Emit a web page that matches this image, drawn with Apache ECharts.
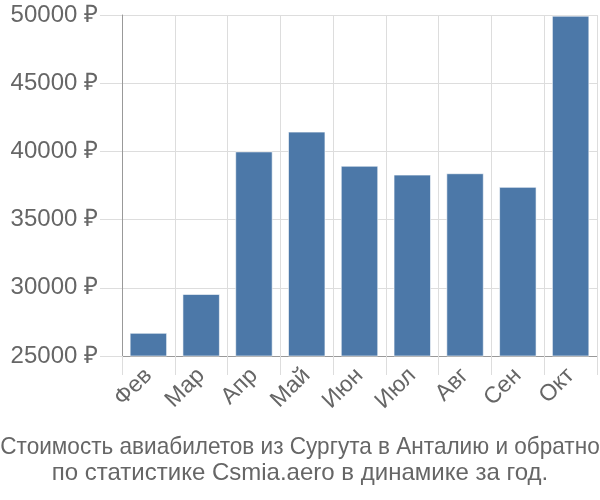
<!DOCTYPE html>
<html><head><meta charset="utf-8">
<script src="https://cdn.jsdelivr.net/npm/echarts@6/dist/echarts.min.js"></script>
<style>html,body{margin:0;padding:0;background:#fff}#c{width:600px;height:500px}</style>
</head><body><div id="c"></div>
<script>
const categories = ['Фев','Мар','Апр','Май','Июн','Июл','Авг','Сен','Окт'];
const prices = [26700, 29550, 40000, 41450, 38950, 38300, 38400, 37400, 49950];
const titleLines = ['Стоимость авиабилетов из Сургута в Анталию и обратно','по статистике Csmia.aero в динамике за год.'];
const yMin = 25000, yMax = 50000, yStep = 5000;

const chart = echarts.init(document.getElementById('c'), null, {renderer:'canvas'});
chart.setOption({
  animation:false,
  textStyle:{fontFamily:'Liberation Sans'},
  graphic:[
    {type:'text', x:300, y:447, scaleX:0.94,
     style:{text:titleLines[0], font:'24px "Liberation Sans"', fill:'#666', align:'center', verticalAlign:'middle'}},
    {type:'text', x:300, y:473,
     style:{text:titleLines[1], font:'24px "Liberation Sans"', fill:'#666', align:'center', verticalAlign:'middle'}}
  ],
  grid:{left:122, right:3, top:15, bottom:144, containLabel:false},
  xAxis:{
    type:'category', data:categories,
    axisLine:{lineStyle:{color:'#999', width:1}},
    axisTick:{show:true, length:19, interval:0, lineStyle:{color:'#ddd'}},
    splitLine:{show:true, interval:0, lineStyle:{color:'#ddd'}},
    axisLabel:{rotate:45, fontSize:23, color:'#666', margin:16, interval:0}
  },
  yAxis:{
    type:'value', min:yMin, max:yMax, interval:yStep,
    axisLine:{show:true, lineStyle:{color:'#999', width:1}},
    axisTick:{show:true, length:22, lineStyle:{color:'#ddd'}},
    splitLine:{show:true, lineStyle:{color:'#ddd'}},
    axisLabel:{fontSize:24, color:'#666', margin:24, formatter: v => v + ' ₽'}
  },
  series:[{
    type:'bar', data:prices, barWidth:'71%',
    itemStyle:{color:'#4c78a8', borderColor:'rgba(255,255,255,0.6)', borderWidth:1}
  }]
});
</script></body></html>
